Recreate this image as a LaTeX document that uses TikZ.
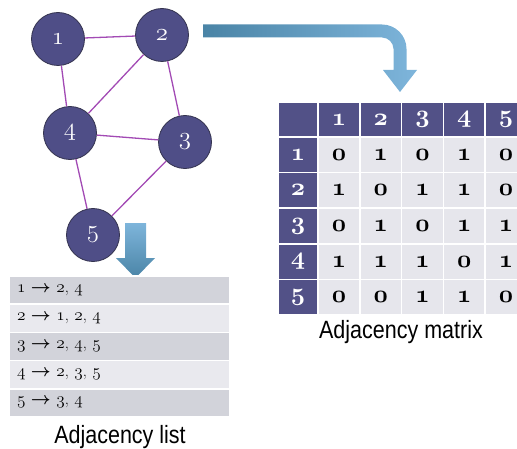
\documentclass[tikz,border=0pt]{standalone}
\usepackage{fontspec}
\newfontfamily\capfont{Liberation Sans}
\usetikzlibrary{positioning}

\definecolor{vertexblue}{HTML}{4F4E87}
\definecolor{vertexline}{HTML}{34334F}
\definecolor{edgepurple}{HTML}{A24AB4}
\definecolor{headblue}{HTML}{525187}
\definecolor{cellgray}{HTML}{E6E6EC}
\definecolor{listdark}{HTML}{D2D3DA}
\definecolor{listlight}{HTML}{E9E9EE}
\definecolor{arrowdark}{HTML}{4A84A6}
\definecolor{arrowlight}{HTML}{7EB5DB}

% old style figures from the math italic font
\newcommand\osn[1]{{\usefont{OML}{lmm}{m}{it}#1}}
\newcommand\osb[1]{{\usefont{OML}{cmm}{b}{it}#1}}
\newcommand\lto{{\boldmath$\rightarrow$}}

\begin{document}
\begin{tikzpicture}[x=1pt, y=1pt,
    vertex/.style={circle, draw=vertexline, fill=vertexblue, line width=0.8pt, minimum size=53pt, inner sep=0pt, text=white, font=\fontsize{25}{25}\selectfont},
    edge/.style={draw=edgepurple, line width=1.3pt},
    cell/.style={draw=white, line width=1.6pt, fill=cellgray, minimum width=41.8pt, minimum height=35.6pt, inner sep=0pt, font=\fontsize{24.88}{24}\selectfont},
    headcell/.style={cell, fill=headblue, text=white},
    listrow/.style={draw=white, line width=1.6pt, minimum width=221pt, minimum height=28.2pt, text width=205pt, align=left, inner sep=0pt, font=\fontsize{16.5}{16}\selectfont},
    caption/.style={anchor=base, xscale=0.86, transform shape, font=\capfont\fontsize{25}{25}\selectfont}]
    \useasboundingbox (0,0) rectangle (517,448);
    \clip (0,0) rectangle (517,448);

    % graph
    \node[vertex] (n1) at (58,409) {\osn1};
    \node[vertex, on grid, above right=4pt and 104pt of n1] (n2) {\osn2};
    \node[vertex, on grid, below right=94pt and 12pt of n1] (n4) {\osn4};
    \node[vertex, on grid, below right=107pt and 23pt of n2] (n3) {\osn3};
    \node[vertex, on grid, below right=102pt and 23pt of n4] (n5) {\osn5};

    \draw[edge] (n1) -- (n2);
    \draw[edge] (n1) -- (n4);
    \draw[edge] (n2) -- (n4);
    \draw[edge] (n2) -- (n3);
    \draw[edge] (n4) -- (n3);
    \draw[edge] (n4) -- (n5);
    \draw[edge] (n3) -- (n5);

    % arrows
    \shade[left color=arrowdark, right color=arrowlight]
        (203,423.5) -- (382,423.5) arc[start angle=90, end angle=0, radius=24.5pt]
        -- (406.5,378) -- (417,378) -- (400,356) -- (383,378) -- (393.5,378) -- (393.5,399)
        arc[start angle=0, end angle=90, radius=11.5pt] -- (203,410.5) -- cycle;
    \shade[top color=arrowlight, bottom color=arrowdark]
        (125,225) -- (146,225) -- (146,190) -- (155,190) -- (135.5,170) -- (116,190) -- (125,190) -- cycle;

    % adjacency matrix
    \node[headcell, minimum width=40pt, minimum height=35pt] (corner) at (298,328.5) {};
    \foreach \i in {1,...,5}
        \node[headcell, minimum height=35pt] (col\i) at ({338.9+41.8*(\i-1)},328.5) {\osb{\i}};
    \foreach \vals [count=\j] in {{0,1,0,1,0},{1,0,1,1,0},{0,1,0,1,1},{1,1,1,0,1},{0,0,1,1,0}} {
        \node[headcell, minimum width=40pt] (row\j) at (298,{293.2-35.6*(\j-1)}) {\osb{\j}};
        \foreach \v [count=\i] in \vals
            \node[cell] (m\j\i) at ({338.9+41.8*(\i-1)},{293.2-35.6*(\j-1)}) {\osb{\v}};
    }
    \node[caption] (matcap) at (401,110) {Adjacency matrix};

    % adjacency list
    \foreach \fillc/\txt [count=\k] in {listdark/{\osn1 \lto{} \osn2, \osn4},
            listlight/{\osn2 \lto{} \osn1, \osn2, \osn4},
            listdark/{\osn3 \lto{} \osn2, \osn4, \osn5},
            listlight/{\osn4 \lto{} \osn2, \osn3, \osn5},
            listdark/{\osn5 \lto{} \osn3, \osn4}}
        \node[listrow, fill=\fillc] (l\k) at (119.5,{157.9-28.2*(\k-1)}) {\txt};
    \node[caption] (listcap) at (120,5) {Adjacency list};
\end{tikzpicture}
\end{document}
